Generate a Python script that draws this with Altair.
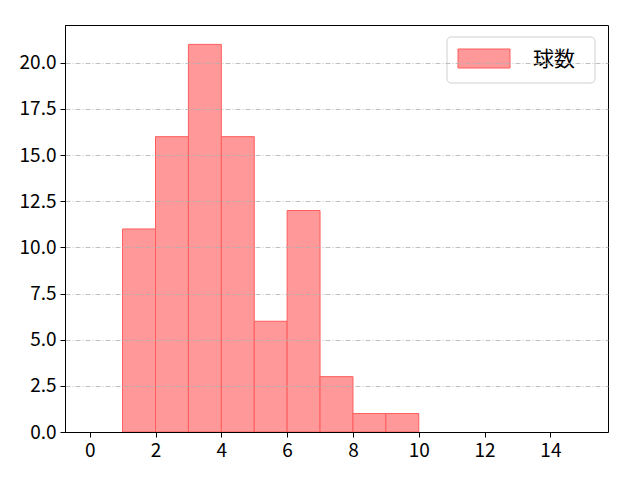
import altair as alt
import pandas as pd

# histogram bins (left edge, right edge) and counts
bin_start = [1, 2, 3, 4, 5, 6, 7, 8, 9]
bin_end = [2, 3, 4, 5, 6, 7, 8, 9, 10]
counts = [11, 16, 21, 16, 6, 12, 3, 1, 1]
label = "球数"

x_ticks = [0, 2, 4, 6, 8, 10, 12, 14]
y_ticks = [0, 2.5, 5, 7.5, 10, 12.5, 15, 17.5, 20]

df = pd.DataFrame({"start": bin_start, "end": bin_end, "count": counts})

W, H = 543, 407
FONT = "Noto Sans CJK JP"

bars = alt.Chart(df).mark_rect(
    fill="#ff9999", stroke="#ff5c5c", strokeWidth=1
).encode(
    x=alt.X("start:Q", scale=alt.Scale(domain=[-0.75, 15.75], nice=False, zero=False),
            axis=alt.Axis(values=x_ticks, title=None, grid=False, format="d", zindex=2)),
    x2="end:Q",
    y=alt.Y("count:Q", scale=alt.Scale(domain=[0, 22.05], nice=False),
            axis=alt.Axis(values=y_ticks, title=None, format=".1f", grid=True,
                          gridColor="#b0b0b0", gridDash=[5, 2, 1, 2], gridWidth=0.8,
                          zindex=1)),
)

# legend box, drawn by hand in the top right corner
leg_box = alt.Chart(pd.DataFrame({"a": [0]})).mark_rect(
    fill="white", stroke="#cccccc", strokeWidth=1, cornerRadius=4, opacity=0.9
).encode(x=alt.value(382), x2=alt.value(530), y=alt.value(12), y2=alt.value(58))
leg_patch = alt.Chart(pd.DataFrame({"a": [0]})).mark_rect(
    fill="#ff9999", stroke="#ff5c5c", strokeWidth=1
).encode(x=alt.value(393), x2=alt.value(445), y=alt.value(24), y2=alt.value(43))
leg_text = alt.Chart(pd.DataFrame({"t": [label]})).mark_text(
    align="left", baseline="middle", fontSize=21, font=FONT, color="black"
).encode(x=alt.value(468), y=alt.value(35), text="t:N")

chart = (bars + leg_box + leg_patch + leg_text).properties(
    width=W, height=H,
    autosize=alt.AutoSizeParams(type="none"),
    padding={"left": 57, "top": 17, "right": 24, "bottom": 40},
).configure_view(
    stroke="black", strokeWidth=1
).configure_axis(
    labelFont=FONT, labelFontSize=19, labelColor="black",
    domainColor="black", tickColor="black", tickSize=5, labelPadding=4,
)

chart.save("out.html", embed_options={"renderer": "svg", "actions": False})
